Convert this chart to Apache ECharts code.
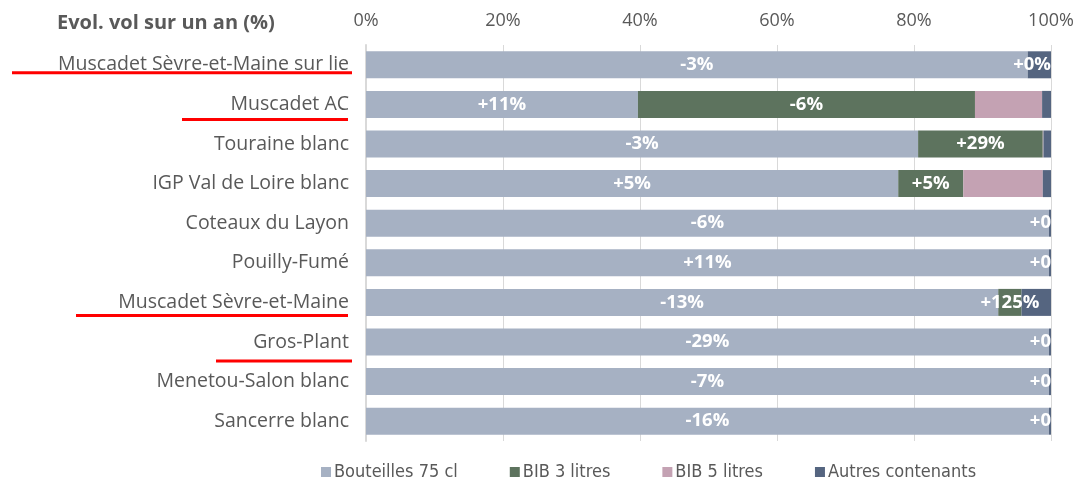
<!DOCTYPE html>
<html>
<head>
<meta charset="utf-8">
<script src="https://cdn.jsdelivr.net/npm/echarts@6/dist/echarts.min.js"></script>
<style>
  html, body { margin: 0; padding: 0; background: #fff; }
  #chart { width: 1081px; height: 481px; }
</style>
</head>
<body>
<div id="chart"></div>
<script>
  // appellations (top to bottom)
  var categories = [
    'Muscadet Sèvre-et-Maine sur lie', 'Muscadet AC', 'Touraine blanc',
    'IGP Val de Loire blanc', 'Coteaux du Layon', 'Pouilly-Fumé',
    'Muscadet Sèvre-et-Maine', 'Gros-Plant', 'Menetou-Salon blanc', 'Sancerre blanc'
  ]
  // part de chaque contenant (%)
  var bouteilles = [96.6, 39.7, 80.6, 77.7, 99.7, 99.7, 92.3, 99.7, 99.7, 99.7]
  var bib3 = [0, 49.2, 18.2, 9.5, 0, 0, 3.4, 0, 0, 0]
  var bib5 = [0, 9.8, 0.1, 11.6, 0, 0, 0, 0, 0, 0]
  var autres = [3.4, 1.3, 1.1, 1.2, 0.3, 0.3, 4.3, 0.3, 0.3, 0.3]
  // evolution sur un an, affichee dans les barres
  var evolBouteilles = ['-3%', '+11%', '-3%', '+5%', '-6%', '+11%', '-13%', '-29%', '-7%', '-16%']
  var evolBib3 = ['', '-6%', '+29%', '+5%', '', '', '+125%', '', '', '']
  var evolBib5 = ['', '', '', '', '', '', '', '', '', '']
  var evolAutres = ['+0%', '', '', '', '+0%', '+0%', '', '+0%', '+0%', '+0%']
  var xTicks = [0, 20, 40, 60, 80, 100]

  var seriesNames = ['Bouteilles 75 cl', 'BIB 3 litres', 'BIB 5 litres', 'Autres contenants']
  var colors = ['#a6b1c3', '#5d735e', '#c4a2b3', '#556580']

  // soulignements rouges (annotation)
  var underlines = [
    {cat: 'Muscadet Sèvre-et-Maine sur lie', x1: 12, x2: 352, dy: 8},
    {cat: 'Muscadet AC', x1: 182, x2: 348, dy: 15},
    {cat: 'Muscadet Sèvre-et-Maine', x1: 76, x2: 348, dy: 13},
    {cat: 'Gros-Plant', x1: 216, x2: 352, dy: 19}
  ]

  var labelFont = '"Open Sans", "Noto Sans", sans-serif'

  function makeData(values, evols, isAutres) {
    return values.map(function (v, i) {
      var item = {value: v, label: {formatter: evols[i]}}
      if (isAutres && evols[i]) {
        item.label.position = 'insideRight'
        item.label.distance = 0
        if (v < 1) {
          // texte coupe au bord du graphique comme dans l'original
          item.label.width = 28
          item.label.overflow = 'truncate'
          item.label.ellipsis = ''
        }
      }
      return item
    })
  }

  var allData = [
    makeData(bouteilles, evolBouteilles),
    makeData(bib3, evolBib3),
    makeData(bib5, evolBib5),
    makeData(autres, evolAutres, true)
  ]

  var chart = echarts.init(document.getElementById('chart'))
  var option = {
    animation: false,
    color: colors,
    title: {
      text: 'Evol. vol sur un an (%)',
      left: 52,
      top: 8,
      textStyle: {color: '#595959', fontSize: 20, fontWeight: 'bold', fontFamily: labelFont}
    },
    legend: {
      top: 458,
      left: 316,
      itemWidth: 10,
      itemHeight: 10,
      itemGap: 52,
      icon: 'rect',
      textStyle: {color: '#595959', fontSize: 18, fontFamily: '"DejaVu Sans Condensed", "Open Sans", sans-serif', padding: [0, 0, 0, -2]},
      data: seriesNames
    },
    grid: {left: 366, right: 30, top: 45, bottom: 40, containLabel: false},
    xAxis: {
      type: 'value',
      position: 'top',
      min: xTicks[0],
      max: xTicks[xTicks.length - 1],
      interval: 20,
      axisLine: {show: false},
      axisTick: {show: false},
      splitLine: {lineStyle: {color: '#d9d9d9', width: 1}},
      axisLabel: {
        formatter: '{value}%',
        color: '#595959',
        fontSize: 18,
        margin: 15,
        fontFamily: labelFont
      }
    },
    yAxis: {
      type: 'category',
      inverse: true,
      data: categories,
      axisTick: {show: false},
      axisLine: {lineStyle: {color: '#d9d9d9', width: 2}},
      axisLabel: {color: '#595959', fontSize: 19.5, margin: 17, fontFamily: labelFont}
    },
    series: seriesNames.map(function (name, k) {
      return {
        name: name,
        type: 'bar',
        stack: 'total',
        barWidth: 27,
        data: allData[k],
        label: {
          show: true,
          position: 'inside',
          color: '#fff',
          fontSize: 18.5,
          fontWeight: 'bold',
          fontFamily: labelFont
        }
      }
    })
  }
  chart.setOption(option)

  // lignes rouges sous certaines appellations
  var lines = underlines.map(function (u) {
    var y = chart.convertToPixel({yAxisIndex: 0}, u.cat) + u.dy
    return {
      type: 'line',
      shape: {x1: u.x1, y1: y, x2: u.x2, y2: y},
      style: {stroke: '#ff0000', lineWidth: 3}
    }
  })
  chart.setOption({graphic: lines})
</script>
</body>
</html>
